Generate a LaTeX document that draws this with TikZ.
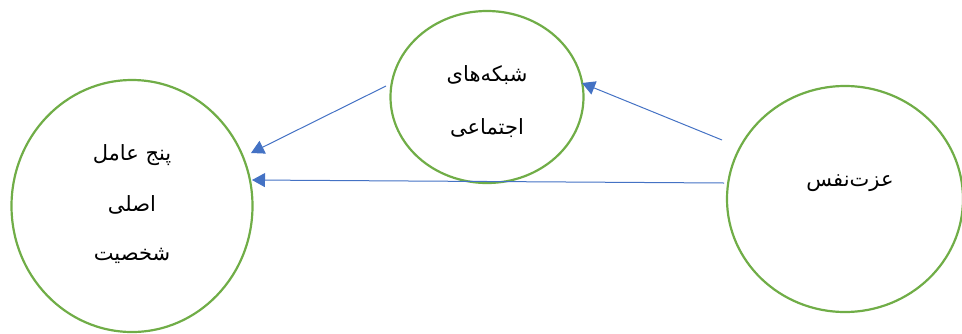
\documentclass[tikz,border=0pt]{standalone}
\usepackage{fontspec}
\usetikzlibrary{shapes.geometric,arrows.meta}
\newfontfamily\arabicfont[Script=Arabic]{DejaVu Sans}
\TeXXeTstate=1
\definecolor{cgreen}{HTML}{70AD47}
\definecolor{cblue}{HTML}{4472C4}
\tikzset{
  circ/.style={draw=cgreen, line width=2.2pt, ellipse, inner sep=0pt},
  lbl/.style={font=\arabicfont\fontsize{21}{24}\selectfont, inner sep=0pt},
  conn/.style={draw=cblue, line width=1pt, -{Triangle[length=13pt,width=14pt]}}
}
\begin{document}
\begin{tikzpicture}[x=1pt,y=-1pt]
\useasboundingbox (0,0) rectangle (962,333);
\node[circ, minimum width=241pt, minimum height=252pt] (left) at (132,206) {};
\node[circ, minimum width=193pt, minimum height=172pt] (mid) at (487,97) {};
\node[circ, minimum width=236pt, minimum height=226pt] (right) at (845,199) {};
\node[lbl] (l1) at (132,155) {\beginR پنج عامل\endR};
\node[lbl] (l2) at (132,205) {\beginR اصلی\endR};
\node[lbl] (l3) at (132,256) {\beginR شخصیت\endR};
\node[lbl] (m1) at (487,75) {\beginR شبکه‌های\endR};
\node[lbl] (m2) at (487,128) {\beginR اجتماعی\endR};
\node[lbl] (r1) at (850,183) {\beginR عزت‌نفس\endR};
\coordinate (s1) at (722,140);
\coordinate (e1) at (582,83);
\coordinate (s2) at (386,86);
\coordinate (e2) at (251,153);
\coordinate (s3) at (724,183);
\coordinate (e3) at (252,180);
\draw[conn] (s1) -- (e1);
\draw[conn] (s2) -- (e2);
\draw[conn] (s3) -- (e3);
\end{tikzpicture}
\end{document}
